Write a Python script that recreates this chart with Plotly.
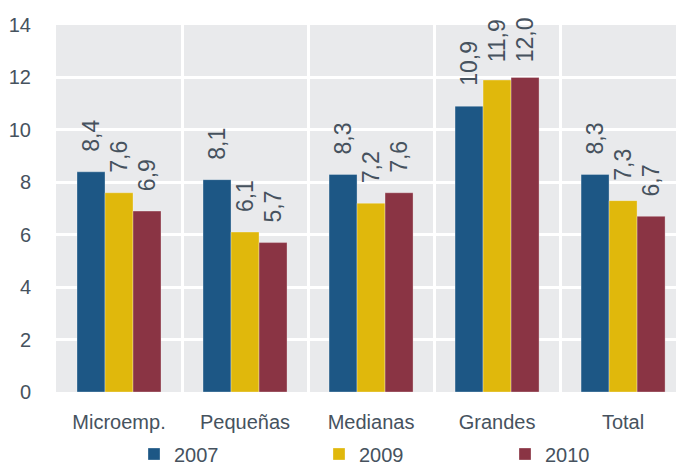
import plotly.graph_objects as go

categories = ["Microemp.", "Pequeñas", "Medianas", "Grandes", "Total"]
years = ["2007", "2009", "2010"]
values_2007 = [8.4, 8.1, 8.3, 10.9, 8.3]
values_2009 = [7.6, 6.1, 7.2, 11.9, 7.3]
values_2010 = [6.9, 5.7, 7.6, 12.0, 6.7]
colors = ["#1d5785", "#e0b80c", "#8a3444"]
y_ticks = [0, 2, 4, 6, 8, 10, 12, 14]

text_color = "#46525e"
font_family = "Liberation Sans, Arial, sans-serif"

W, H = 676, 468
M_L, M_R, M_T, M_B = 56, 0, 25, 76
Y_MAX = 14
BARGAP = 1 / 3
bar_w = (1 - BARGAP) / 3
px_per_unit = (H - M_T - M_B) / Y_MAX
LABEL_SIZE = 23

x_pos = list(range(len(categories)))
series = [values_2007, values_2009, values_2010]

fig = go.Figure()
legend_x = [154, 339, 525]
for k, (name, vals, col) in enumerate(zip(years, series, colors)):
    leg = "legend" if k == 0 else f"legend{k + 1}"
    fig.add_trace(go.Bar(
        x=x_pos, y=vals, name=name, legend=leg,
        marker=dict(color=col, line=dict(color="rgba(255,255,255,0.3)", width=1)),
    ))
    fig.update_layout({leg: dict(
        orientation="h",
        xref="container", yref="container",
        x=(legend_x[k] - 20) / W, xanchor="left",
        y=1 - 454 / H, yanchor="middle",
        bgcolor="rgba(0,0,0,0)", borderwidth=0,
        font=dict(family=font_family, size=20, color=text_color),
        itemwidth=30, tracegroupgap=0,
    )})

    # value labels, rotated, sitting above each bar; kept below the top edge
    for i, v in enumerate(vals):
        label = f"{v:.1f}".replace(".", ",")
        bar_top_px = M_T + (Y_MAX - v) * px_per_unit
        n_digits = len(label.replace(",", ""))
        label_len = LABEL_SIZE * (0.556 * n_digits + 0.278)
        shift = 18
        if bar_top_px - shift - label_len < 20:
            shift = bar_top_px - (20 + label_len)
        fig.add_annotation(
            x=i + (k - 1) * bar_w, y=v, xref="x", yref="y",
            text=label, showarrow=False, textangle=-90,
            xanchor="center", yanchor="bottom", yshift=shift,
            font=dict(family=font_family, size=LABEL_SIZE, color=text_color),
        )

fig.update_layout(
    width=W, height=H,
    margin=dict(l=M_L, r=M_R, t=M_T, b=M_B, autoexpand=False),
    paper_bgcolor="white", plot_bgcolor="#e9eaec",
    barmode="group", bargap=BARGAP, bargroupgap=0,
    font=dict(family=font_family, size=20, color=text_color),
    showlegend=True,
)

fig.update_xaxes(
    range=[-0.5, 4.42], tickvals=x_pos, ticktext=categories,
    showgrid=False, zeroline=False, ticks="outside", ticklen=12,
    tickcolor="rgba(0,0,0,0)",
    minor=dict(tickvals=[0.5, 1.5, 2.5, 3.5], showgrid=True, gridcolor="white",
               gridwidth=3, ticks=""),
    tickfont=dict(family=font_family, size=20, color=text_color),
)
fig.update_yaxes(
    range=[0, Y_MAX], tickvals=y_ticks, showgrid=True, gridcolor="white", gridwidth=3,
    zeroline=False, ticks="outside", ticklen=20, tickcolor="rgba(0,0,0,0)",
    tickfont=dict(family=font_family, size=20, color=text_color),
)

fig.write_html("out.html")
